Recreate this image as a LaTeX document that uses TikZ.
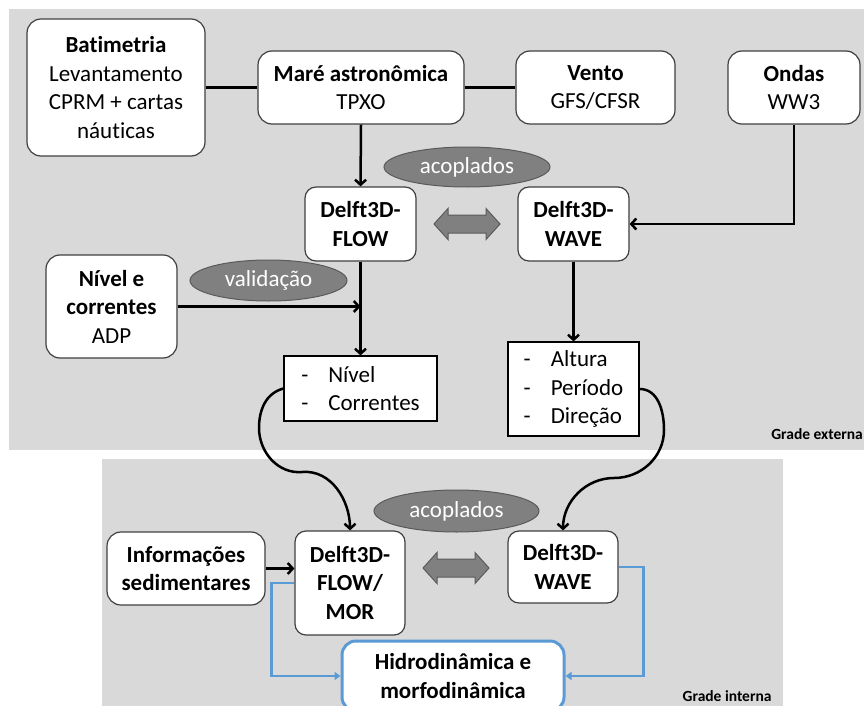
\documentclass[tikz,border=0pt]{standalone}
\usepackage{fontspec}
\setmainfont[Ligatures=NoCommon]{Carlito}
\usetikzlibrary{arrows.meta,shapes.geometric}

\definecolor{gradegray}{RGB}{217,217,217}
\definecolor{ovalgray}{RGB}{128,128,128}
\definecolor{ovalline}{RGB}{90,90,90}
\definecolor{boxline}{RGB}{64,64,64}
\definecolor{linkblue}{RGB}{91,155,213}

% fat two-headed arrow between coupled models
\newcommand{\couplearrow}[1]{%
  \draw[draw=ovalline,fill=ovalgray,line width=1pt] (#1) ++(-33,0)
    -- ++(14,-15.5) -- ++(0,6.5) -- ++(38,0) -- ++(0,-6.5) -- ++(14,15.5)
    -- ++(-14,15.5) -- ++(0,-6.5) -- ++(-38,0) -- ++(0,6.5) -- cycle;}

\begin{document}
\begin{tikzpicture}[x=1pt,y=-1pt,>={Straight Barb[length=5pt,width=11pt]},
                    font=\fontsize{23}{28.5}\selectfont]
  \tikzset{source/.style={draw=boxline,line width=1.2pt,fill=white,rounded corners=14pt,
                          align=center,inner sep=0pt},
           model/.style={source,rounded corners=11pt,font=\fontsize{23}{28.5}\selectfont\bfseries},
           listbox/.style={draw=black,line width=1.2pt,fill=white,align=left,inner sep=0pt},
           tag/.style={ellipse,draw=ovalline,line width=1pt,fill=ovalgray,text=white,inner sep=0pt},
           link/.style={->,line width=2.5pt},
           feedback/.style={-{Triangle[length=6pt,width=8pt]},draw=linkblue,line width=2.5pt},
           grade/.style={font=\fontsize{15.5}{18}\selectfont\bfseries}}
  \useasboundingbox (0,0) rectangle (864,706);

  % the two grids
  \fill[gradegray] (9,9) rectangle (870,450);
  \fill[gradegray] (102,459) rectangle (783,712);
  \node[grade,anchor=base east,inner sep=1pt] (ext) at (864,439) {Grade externa};
  \node[grade,anchor=base east] (int) at (775,701) {Grade interna};

  % outer grid
  \node[source,minimum width=178pt,minimum height=137pt] (bat) at (116,87.5)
       {\textbf{Batimetria}\\Levantamento\\CPRM + cartas\\náuticas};
  \node[source,minimum width=206pt,minimum height=73pt] (mare) at (361,87.5)
       {\textbf{Maré astronômica}\\TPXO};
  \node[source,minimum width=159pt,minimum height=73pt] (vento) at (595.5,87.5)
       {\textbf{Vento}\\GFS/CFSR};
  \node[source,minimum width=132pt,minimum height=73pt] (ondas) at (794,87.5)
       {\textbf{Ondas}\\WW3};

  \node[model,minimum width=111pt,minimum height=74pt] (flow) at (360.5,224) {Delft3D-\\FLOW};
  \node[model,minimum width=111pt,minimum height=74pt] (wave) at (573.5,224) {Delft3D-\\WAVE};
  \node[tag,minimum width=166pt,minimum height=40pt] (acop) at (467,167) {acoplados};
  \couplearrow{467,224}

  \node[source,minimum width=131pt,minimum height=103pt] (nivel) at (111.5,306.5)
       {\textbf{Nível e}\\\textbf{correntes}\\ADP};
  \node[tag,minimum width=157pt,minimum height=41pt] (valid) at (268.5,280.5) {validação};

  \node[listbox,minimum width=153pt,minimum height=65pt] (hidout) at (360.5,388.5)
       {-\hspace{20pt}Nível\\-\hspace{20pt}Correntes};
  \node[listbox,minimum width=131pt,minimum height=94pt] (waveout) at (573.5,389)
       {-\hspace{20pt}Altura\\-\hspace{20pt}Período\\-\hspace{20pt}Direção};

  % inner grid
  \node[source,minimum width=158pt,minimum height=73pt,font=\fontsize{23}{28.5}\selectfont\bfseries]
       (sed) at (186,568.5) {Informações\\sedimentares};
  \node[model,minimum width=110pt,minimum height=104pt] (flowmor) at (350,583) {Delft3D-\\FLOW/\\MOR};
  \node[model,minimum width=110pt,minimum height=72pt] (wave2) at (563,567) {Delft3D-\\WAVE};
  \node[tag,minimum width=165pt,minimum height=42pt] (acop2) at (456.5,511) {acoplados};
  \couplearrow{456,568}
  \node[source,draw=linkblue,line width=3pt,minimum width=222pt,minimum height=70pt,
        font=\fontsize{23}{28.5}\selectfont\bfseries] (hidro) at (453,676)
       {Hidrodinâmica e\\morfodinâmica};

  % forcing
  \draw[line width=2.5pt] (bat.east) -- (mare.west);
  \draw[line width=2.5pt] (mare.east) -- (vento.west);
  \draw[link] (mare.south) -- (flow.north);
  \draw[link] (ondas.south) |- (wave.east);
  \draw[link] (flow.south) -- (hidout.north);
  \draw[link] (nivel.east) -- (nivel.east -| flow.south);
  \draw[link] (wave.south) -- (waveout.north);

  % boundary conditions to the inner grid
  \draw[link] (hidout.west) to[out=195,in=90] (259,428) to[out=270,in=185] (302,472)
              to[out=5,in=90] (flowmor.north);
  \draw[link] (waveout.east) to[out=0,in=90] (664,430) to[out=270,in=0] (614,478)
              to[out=180,in=90] (wave2.north);
  \draw[link] (sed.east) -- (sed.east -| flowmor.west);

  \draw[feedback] (flowmor.west) -- ++(-23,0) |- (hidro.west);
  \draw[feedback] (wave2.east) -- ++(25,0) |- (hidro.east);
\end{tikzpicture}
\end{document}
